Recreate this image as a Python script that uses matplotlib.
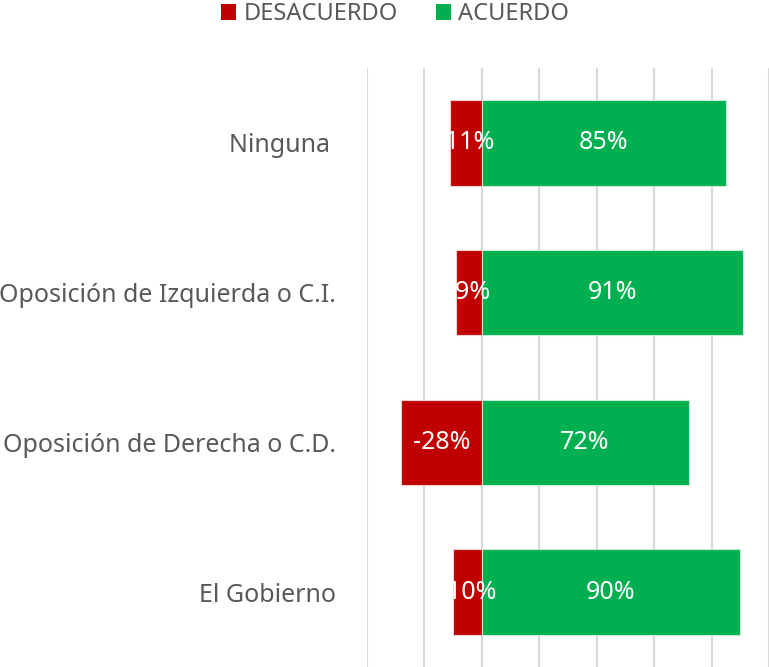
import matplotlib.pyplot as plt
from matplotlib.patches import Patch
import numpy as np

# Datos
categorias = ['El Gobierno', 'Oposición de Derecha o C.D.',
              'Oposición de Izquierda o C.I.', 'Ninguna ']
desacuerdo = [-10, -28, -9, -11]
acuerdo = [90, 72, 91, 85]
ticks_x = [-40, -20, 0, 20, 40, 60, 80, 100]

rojo = '#C00000'
verde = '#00B050'
gris = '#595959'

plt.rcParams['font.family'] = ['Noto Sans', 'DejaVu Sans']
fs = 18

fig = plt.figure(figsize=(7.69, 6.67), dpi=100)
ax = fig.add_axes([366.7 / 769, 0.0, 1 - 366.7 / 769, 1 - 68 / 667])

y = np.arange(len(categorias))
alto = 0.57

ax.barh(y, desacuerdo, height=alto, color=rojo, edgecolor='#f2d0d0', linewidth=0.8, zorder=3)
ax.barh(y, acuerdo, height=alto, color=verde, edgecolor='#c8ecd6', linewidth=0.8, zorder=3)

# Etiquetas de valores
for i in range(len(categorias)):
    ax.text(desacuerdo[i] / 2, y[i], '{}%'.format(desacuerdo[i]), color='white',
            ha='center', va='center', fontsize=fs, zorder=4)
    ax.text(acuerdo[i] / 2, y[i], '{}%'.format(acuerdo[i]), color='white',
            ha='center', va='center', fontsize=fs, zorder=4)

ax.set_xlim(-40, 100)
ax.set_ylim(-0.5, len(categorias) - 0.5)
ax.set_xticks(ticks_x)
ax.xaxis.grid(True, color='#D9D9D9', linewidth=1.5, zorder=0)
ax.set_axisbelow(True)
ax.tick_params(axis='x', length=0, labelbottom=False)
ax.tick_params(axis='y', length=0, pad=22)
ax.set_yticks(y)
ax.set_yticklabels(categorias, fontsize=fs, color=gris)
for s in ax.spines.values():
    s.set_visible(False)

# Leyenda
handles = [Patch(facecolor=rojo, label='DESACUERDO'),
           Patch(facecolor=verde, label='ACUERDO')]
fig.legend(handles=handles, loc='center', bbox_to_anchor=(395 / 769, 1 - 14 / 667),
           ncol=2, frameon=False, fontsize=17, labelcolor=gris,
           handlelength=0.65, handleheight=0.65, handletextpad=0.3, columnspacing=1.6)

fig.savefig('out.png', dpi=100)
